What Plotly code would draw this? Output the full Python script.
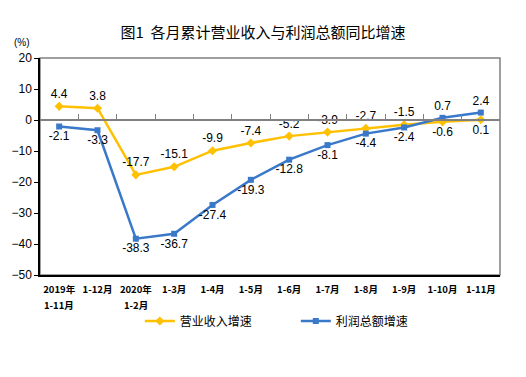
import plotly.graph_objects as go

categories = ["2019年1-11月", "1-12月", "2020年1-2月", "1-3月", "1-4月", "1-5月",
              "1-6月", "1-7月", "1-8月", "1-9月", "1-10月", "1-11月"]
tick_line1 = ["2019年", "1-12月", "2020年", "1-3月", "1-4月", "1-5月",
              "1-6月", "1-7月", "1-8月", "1-9月", "1-10月", "1-11月"]
tick_line2 = ["1-11月", "", "1-2月", "", "", "", "", "", "", "", "", ""]
revenue_growth = [4.4, 3.8, -17.7, -15.1, -9.9, -7.4, -5.2, -3.9, -2.7, -1.5, -0.6, 0.1]
profit_growth = [-2.1, -3.3, -38.3, -36.7, -27.4, -19.3, -12.8, -8.1, -4.4, -2.4, 0.7, 2.4]
y_ticks = [20, 10, 0, -10, -20, -30, -40, -50]

rev_pos = ["top center"] * 10 + ["bottom center"] * 2
pro_pos = ["bottom center"] * 10 + ["top center"] * 2

YELLOW = "#FFC000"
BLUE = "#3A78C9"
LBL = dict(family="Liberation Sans, Arial", size=12, color="#000")
TICKF = dict(family="Noto Sans CJK SC", size=9.5, color="#000", weight="bold")

fig = go.Figure()
fig.add_trace(go.Scatter(
    x=categories, y=revenue_growth, name="营业收入增速", mode="lines+markers+text",
    line=dict(color=YELLOW, width=2.5), marker=dict(symbol="diamond", size=7, color=YELLOW),
    text=[f"{v:.1f}" for v in revenue_growth], textposition=rev_pos, textfont=LBL,
    cliponaxis=False))
fig.add_trace(go.Scatter(
    x=categories, y=profit_growth, name="利润总额增速", mode="lines+markers+text",
    line=dict(color=BLUE, width=2.5), marker=dict(symbol="square", size=6, color=BLUE),
    text=[f"{v:.1f}" for v in profit_growth], textposition=pro_pos, textfont=LBL,
    cliponaxis=False))

n = len(categories)
zero_pos = (0 - min(y_ticks)) / (max(y_ticks) - min(y_ticks))

annotations = [dict(text="(%)", xref="paper", yref="paper", x=-0.017, y=1.07,
                    xanchor="right", yanchor="middle", showarrow=False,
                    font=dict(family="Liberation Sans, Arial", size=10, color="#000"))]
for cat, t2 in zip(categories, tick_line2):
    if t2:
        annotations.append(dict(text=t2, x=cat, xref="x", yref="paper", y=-0.138,
                                xanchor="center", yanchor="middle", showarrow=False,
                                borderpad=0, font=TICKF))

fig.update_layout(
    width=526, height=377,
    margin=dict(l=40, r=26, t=58, b=102),
    paper_bgcolor="white", plot_bgcolor="white",
    showlegend=True,
    legend=dict(orientation="h", x=0.217, xanchor="left", y=-0.212, yanchor="middle",
                font=dict(family="Noto Sans CJK SC", size=12, color="#000"),
                entrywidth=111, entrywidthmode="pixels", bgcolor="rgba(0,0,0,0)"),
    xaxis=dict(type="category", range=[-0.5, n - 0.5], showgrid=False,
               showline=True, linecolor="#000", linewidth=1.5, ticks="",
               tickvals=categories, ticktext=tick_line1,
               ticklabelstandoff=5, tickfont=TICKF, fixedrange=True),
    xaxis2=dict(overlaying="x", anchor="free", position=zero_pos, range=[-0.5, n - 0.5],
                tickvals=[i + 0.5 for i in range(n)], ticks="inside", ticklen=5,
                tickcolor="#808080", showticklabels=False, showline=True,
                linecolor="#808080", linewidth=1.5, showgrid=False, zeroline=False),
    yaxis=dict(range=[min(y_ticks), max(y_ticks)], tickvals=y_ticks, showgrid=False,
               zeroline=False, showline=True, linecolor="#000", linewidth=1.5,
               ticks="outside", ticklen=4, tickcolor="#000",
               tickfont=dict(family="Liberation Sans, Arial", size=12, color="#000")),
    title=dict(text="图1  各月累计营业收入与利润总额同比增速", x=0.5, xanchor="center",
               y=0.912, yanchor="middle",
               font=dict(family="Noto Sans CJK SC", size=15, color="#000")),
    shapes=[dict(type="rect", xref="paper", yref="paper", x0=0, x1=1, y0=0, y1=1,
                 line=dict(color="#808080", width=1.5), layer="below")],
    annotations=annotations,
)
fig.add_trace(go.Scatter(x=[0], y=[0], xaxis="x2", mode="markers",
                         marker=dict(opacity=0), showlegend=False, hoverinfo="skip"))
fig.write_html("out.html", config={"displayModeBar": False},
               post_script="document.body.style.margin='0';")
